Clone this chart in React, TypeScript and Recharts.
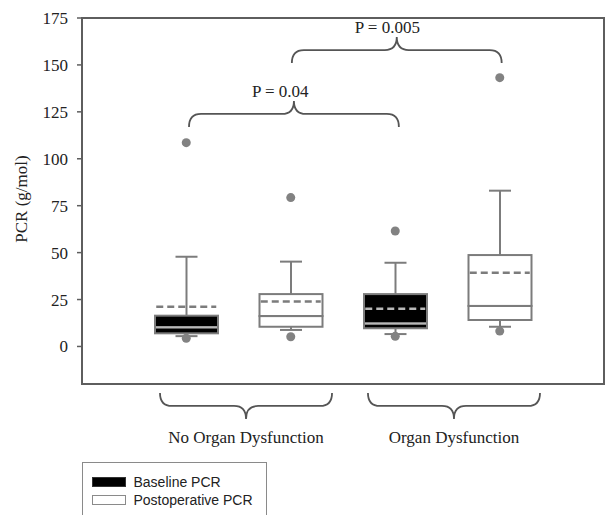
import React from "react";
import {
  ComposedChart,
  Bar,
  Scatter,
  XAxis,
  YAxis,
  ReferenceLine,
  ReferenceArea,
  Legend,
} from "recharts";

// boxes in drawing order: group x series
const boxNames = ["ND-Baseline", "ND-Postop", "OD-Baseline", "OD-Postop"];
const boxSlots = [1, 2, 3, 4];
const boxSeries = [0, 1, 0, 1];
const seriesNames = ["Baseline PCR", "Postoperative PCR"];
const groupNames = ["No Organ Dysfunction", "Organ Dysfunction"];

// values (g/mol)
const whiskerLow = [5.5, 8.8, 6.6, 10.5];
const q1 = [7.0, 10.5, 9.7, 14.1];
const median = [10.2, 16.2, 12.3, 21.6];
const q3 = [16.4, 27.9, 27.9, 48.7];
const whiskerHigh = [47.8, 45.2, 44.6, 83.0];
const mean = [21.2, 23.9, 20.1, 39.3];
const outlierHigh = [108.6, 79.3, 61.5, 143.2];
const outlierLow = [4.4, 5.2, 5.4, 8.2];

const yTicks = [0, 25, 50, 75, 100, 125, 150, 175];
const pValues = ["P = 0.04", "P = 0.005"];

const SERIF = "'Liberation Serif', 'Times New Roman', serif";
const SANS = "'Liberation Sans', Arial, sans-serif";
const BOX = "#7c7c7c";
const FRAME = "#5e5e5e";
const TEXT = "#222";
const FILLS = ["#000000", "#ffffff"];
const INNER = ["#b8b8b8", BOX]; // line colour inside a box
const CAP = 22;

// stacked segments: 0 -> low whisker -> q1 -> median -> q3 -> high whisker
const rows = boxNames.map((name, i) => ({
  name,
  slot: boxSlots[i],
  series: boxSeries[i],
  base: whiskerLow[i],
  lowWhisker: q1[i] - whiskerLow[i],
  lowBox: median[i] - q1[i],
  highBox: q3[i] - median[i],
  highWhisker: whiskerHigh[i] - q3[i],
  mean: mean[i],
  outHigh: outlierHigh[i],
  outLow: outlierLow[i],
}));

// annotation brackets, in the hidden 0..5 axis (boxes sit at 1..4)
const pBrackets = [
  { from: 1.025, to: 3.035, level: 123.9 },
  { from: 2.01, to: 4.02, level: 157.9 },
];
const groupBraces = [
  { from: 0.747, to: 2.395, level: -31.7 },
  { from: 2.739, to: 4.387, level: -31.7 },
];

const bracePath = (x1: number, x2: number, y: number, dir: number) => {
  // dir = -1 point up, +1 point down; the ends curl the other way
  const xm = (x1 + x2) / 2;
  const r = 12;
  const d = 13;
  return `M${x1},${y - dir * d} Q${x1},${y} ${x1 + r},${y} L${xm - r},${y} Q${xm},${y} ${xm},${y + dir * d} Q${xm},${y} ${xm + r},${y} L${x2 - r},${y} Q${x2},${y} ${x2},${y - dir * d}`;
};

const LowWhisker = (props: any) => {
  const { x, y, width, height } = props;
  const cx = x + width / 2;
  return (
    <g stroke={BOX} strokeWidth={2}>
      <line x1={cx} y1={y} x2={cx} y2={y + height} />
      <line x1={cx - CAP / 2} y1={y + height} x2={cx + CAP / 2} y2={y + height} />
    </g>
  );
};

const HighWhisker = (props: any) => {
  const { x, y, width, height } = props;
  const cx = x + width / 2;
  return (
    <g stroke={BOX} strokeWidth={2}>
      <line x1={cx} y1={y} x2={cx} y2={y + height} />
      <line x1={cx - CAP / 2} y1={y} x2={cx + CAP / 2} y2={y} />
    </g>
  );
};

const LowBox = (props: any) => {
  const { x, y, width, height, payload } = props;
  return (
    <rect x={x} y={y} width={width} height={height} fill={FILLS[payload.series]} stroke={BOX} strokeWidth={2} />
  );
};

const HighBox = (props: any) => {
  const { x, y, width, height, payload } = props;
  return (
    <g>
      <rect x={x} y={y} width={width} height={height} fill={FILLS[payload.series]} stroke={BOX} strokeWidth={2} />
      <line x1={x + 1} y1={y + height} x2={x + width - 1} y2={y + height} stroke={INNER[payload.series]} strokeWidth={2} />
    </g>
  );
};

const MeanLine = (props: any) => {
  const { cx, cy, payload } = props;
  const lo = payload.base + payload.lowWhisker;
  const hi = lo + payload.lowBox + payload.highBox;
  const inside = payload.mean > lo && payload.mean < hi;
  return (
    <line
      x1={cx - 30}
      y1={cy}
      x2={cx + 30}
      y2={cy}
      stroke={inside ? INNER[payload.series] : BOX}
      strokeWidth={2.5}
      strokeDasharray="7 4"
    />
  );
};

const Outlier = (props: any) => {
  const { cx, cy } = props;
  return <circle cx={cx} cy={cy} r={4.5} fill="#828282" />;
};

const pBracketShape = (label: string) => (props: any) => {
  const { x1, x2, y1 } = props;
  const xm = (x1 + x2) / 2;
  return (
    <g>
      <path d={bracePath(x1, x2, y1, -1)} fill="none" stroke="#555" strokeWidth={1.8} />
      <text x={xm - 42} y={y1 - 17} fill={TEXT} fontFamily={SERIF} fontSize={17}>
        {label}
      </text>
    </g>
  );
};

const groupBraceShape = (label: string) => (props: any) => {
  const { x1, x2, y1 } = props;
  const xm = (x1 + x2) / 2;
  return (
    <g>
      <path d={bracePath(x1, x2, y1, 1)} fill="none" stroke="#555" strokeWidth={1.8} />
      <text x={xm} y={y1 + 37} textAnchor="middle" fill={TEXT} fontFamily={SERIF} fontSize={17}>
        {label}
      </text>
    </g>
  );
};

const renderYLabel = (props: any) => {
  const { viewBox } = props;
  const x = viewBox.x + 21;
  const y = viewBox.y + viewBox.height / 2 - 2;
  return (
    <text
      x={x}
      y={y}
      transform={`rotate(-90, ${x}, ${y})`}
      textAnchor="middle"
      dominantBaseline="central"
      fill={TEXT}
      fontFamily={SERIF}
      fontSize={17}
    >
      PCR (g/mol)
    </text>
  );
};

const renderLegend = () => (
  <div
    style={{
      position: "relative",
      width: 185,
      height: 70,
      border: "1.5px solid #8a8a8a",
      boxSizing: "border-box",
      background: "#fff",
      fontFamily: SANS,
      fontSize: 14,
      color: TEXT,
    }}
  >
    {seriesNames.map((name, i) => (
      <div
        key={name}
        style={{ position: "absolute", left: 8.5, top: 10.5 + i * 17.5, height: 17, display: "flex", alignItems: "center" }}
      >
        <span
          style={{
            display: "inline-block",
            width: 34,
            height: 10,
            boxSizing: "border-box",
            background: FILLS[i],
            border: `1.5px solid ${i === 0 ? "#333" : "#8a8a8a"}`,
            marginRight: 8,
          }}
        />
        <span>{name}</span>
      </div>
    ))}
  </div>
);

export default function App() {
  return (
    <div style={{ position: "absolute", left: 0, top: 0, width: 607, height: 515, overflow: "hidden", background: "#fff" }}>
      <ComposedChart width={607} height={515} data={rows} margin={{ top: 18, right: 3, bottom: 131, left: 0 }}>
        <XAxis dataKey="name" hide padding={{ left: 52, right: 52 }} />
        <XAxis xAxisId="ann" dataKey="slot" type="number" domain={[0, 5]} hide allowDataOverflow />
        <YAxis
          width={82}
          domain={[-20, 175]}
          ticks={yTicks}
          allowDataOverflow
          axisLine={false}
          tickLine={{ stroke: FRAME, strokeWidth: 1.5 }}
          tickSize={5}
          tickMargin={9}
          tick={{ fill: TEXT, fontFamily: SERIF, fontSize: 17 }}
          label={{ content: renderYLabel }}
        />
        <Bar dataKey="base" stackId="box" barSize={63} shape={() => <g />} isAnimationActive={false} />
        <Bar dataKey="lowWhisker" stackId="box" barSize={63} shape={LowWhisker} isAnimationActive={false} />
        <Bar dataKey="lowBox" stackId="box" barSize={63} shape={LowBox} isAnimationActive={false} />
        <Bar dataKey="highBox" stackId="box" barSize={63} shape={HighBox} isAnimationActive={false} />
        <Bar dataKey="highWhisker" stackId="box" barSize={63} shape={HighWhisker} isAnimationActive={false} />
        <Scatter dataKey="mean" shape={MeanLine} isAnimationActive={false} />
        <Scatter dataKey="outHigh" shape={Outlier} isAnimationActive={false} />
        <Scatter dataKey="outLow" shape={Outlier} isAnimationActive={false} />
        <ReferenceArea
          xAxisId="ann"
          x1={0}
          x2={5}
          y1={-20}
          y2={175}
          fill="none"
          stroke={FRAME}
          strokeWidth={2}
          ifOverflow="visible"
        />
        {pBrackets.map((b, i) => (
          <ReferenceLine
            key={pValues[i]}
            xAxisId="ann"
            segment={[{ x: b.from, y: b.level }, { x: b.to, y: b.level }]}
            ifOverflow="visible"
            shape={pBracketShape(pValues[i])}
          />
        ))}
        {groupBraces.map((b, i) => (
          <ReferenceLine
            key={groupNames[i]}
            xAxisId="ann"
            segment={[{ x: b.from, y: b.level }, { x: b.to, y: b.level }]}
            ifOverflow="visible"
            shape={groupBraceShape(groupNames[i])}
          />
        ))}
        <Legend
          layout="vertical"
          align="center"
          verticalAlign="middle"
          content={renderLegend}
          wrapperStyle={{ left: 82, top: 462, width: 185, height: 70 }}
        />
      </ComposedChart>
    </div>
  );
}
